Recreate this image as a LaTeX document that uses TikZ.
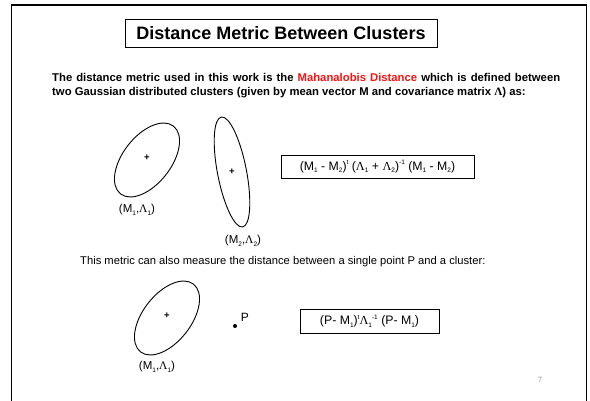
\documentclass[tikz,border=0pt]{standalone}
\usepackage{fontspec}
\setmainfont{Liberation Sans}
\newfontfamily\symf{Liberation Serif}
\newcommand\lsub[1]{\raisebox{-0.35ex}{\fontsize{6.5}{6.5}\selectfont #1}}
\newcommand\lsup[1]{\raisebox{0.9ex}{\fontsize{6.5}{6.5}\selectfont #1}}
\newcommand\lam{{\symf Λ}}
\definecolor{hotred}{RGB}{250,20,20}
\begin{document}
\begin{tikzpicture}[x=1pt,y=-1pt,
  frame/.style={line width=1.6pt},
  titlebox/.style={draw, line width=0.9pt, minimum width=312pt, minimum height=28pt, inner sep=0pt,
    font=\bfseries\fontsize{18}{18}\selectfont},
  clus/.style={line width=0.9pt},
  formbox/.style={draw, line width=0.9pt, inner sep=0pt, font=\fontsize{12.3}{12}\selectfont},
  lbl/.style={inner sep=0pt, font=\fontsize{11.5}{12}\selectfont},
  cross/.style={inner sep=0pt, font=\bfseries\fontsize{9.5}{9.5}\selectfont}]
\useasboundingbox (0,0) rectangle (590,401);
\draw[frame] (11.5,401) -- (11.5,5) -- (586.5,5) -- (586.5,401);

\node[titlebox] (title) at (281,33) {Distance Metric Between Clusters};

\node[anchor=north west, text width=508pt, align=justify, inner sep=0pt,
  font=\bfseries\fontsize{11.3}{14}\selectfont] (para) at (52,73)
  {The distance metric used in this work is the \textcolor{hotred}{Mahanalobis Distance} which is defined between\linebreak
   two Gaussian distributed clusters (given by mean vector M and covariance matrix \lam) as:};

% cluster 1
\draw[clus, rotate around={52:(147,160)}] (147,160) ellipse [x radius=43, y radius=24];
\node[cross] (c1) at (147,158) {+};
\node[lbl] (l1) at (137,210) {(M\lsub{1},\lam\lsub{1})};
% cluster 2
\draw[clus, rotate around={101:(232,172)}] (232,172) ellipse [x radius=56, y radius=14.5];
\node[cross] (c2) at (232,172) {+};
\node[lbl] (l2) at (243,241) {(M\lsub{2},\lam\lsub{2})};

\node[formbox, minimum width=193pt, minimum height=23pt] (f1) at (377.5,166.5)
  {(M\lsub{1} - M\lsub{2})\lsup{t} (\lam\lsub{1} + \lam\lsub{2})\lsup{-1} (M\lsub{1} - M\lsub{2})};

\node[anchor=west, inner sep=0pt, font=\fontsize{11.2}{12}\selectfont] (line2) at (80,262)
  {This metric can also measure the distance between a single point P and a cluster:};

% cluster 3
\draw[clus, rotate around={52:(167,318)}] (167,318) ellipse [x radius=43, y radius=24];
\node[cross] (c3) at (167,316) {+};
\node[lbl] (l3) at (157,367) {(M\lsub{1},\lam\lsub{1})};

\fill (235,326) circle (2);
\node[inner sep=0pt, font=\fontsize{12}{12}\selectfont] (P) at (245,317) {P};

\node[formbox, minimum width=139pt, minimum height=24pt] (f2) at (369.5,321)
  {(P- M\lsub{1})\lsup{t}\lam\lsub{1}\lsup{-1} (P- M\lsub{1})};

\node[inner sep=0pt, text=gray, font=\symf\fontsize{8}{8}\selectfont] (pg) at (540,380) {7};
\end{tikzpicture}
\end{document}
